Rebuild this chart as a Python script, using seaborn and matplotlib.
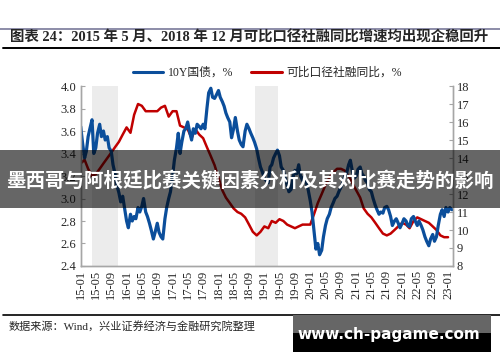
import numpy as np
import pandas as pd
import matplotlib
matplotlib.use("Agg")
import matplotlib.pyplot as plt
import matplotlib.dates as mdates
from matplotlib.lines import Line2D
from matplotlib.patches import Rectangle
import seaborn as sns

sns.set_style("white")
plt.rcParams["font.family"] = ["Liberation Serif", "Noto Sans CJK SC", "DejaVu Sans"]

# 10Y government bond yield, %, twice a month from 2015-01 to 2023-02
bond_yield = [
    3.64, 3.50, 3.36, 3.42, 3.55, 3.62, 3.70, 3.40, 3.45, 3.58, 3.66, 3.55,
    3.60, 3.52, 3.55, 3.45, 3.42, 3.30, 3.22, 3.12, 3.05, 2.97, 3.02, 2.92,
    2.80, 2.74, 2.86, 2.80, 2.84, 2.82, 2.92, 2.88, 2.93, 3.00, 2.88, 2.84,
    2.78, 2.72, 2.64, 2.70, 2.78, 2.70, 2.66, 2.64, 2.82, 2.92, 3.00, 3.06,
    3.20, 3.34, 3.45, 3.58, 3.40, 3.50, 3.60, 3.62, 3.68, 3.60, 3.52, 3.62,
    3.58, 3.66, 3.64, 3.62, 3.66, 3.62, 3.80, 3.94, 3.98, 3.90, 3.89, 3.92,
    3.96, 3.90, 3.86, 3.82, 3.76, 3.72, 3.68, 3.54, 3.62, 3.72, 3.60, 3.52,
    3.48, 3.46, 3.60, 3.66, 3.62, 3.58, 3.54, 3.50, 3.44, 3.36, 3.28, 3.24,
    3.18, 3.16, 3.14, 3.28, 3.30, 3.36, 3.40, 3.43, 3.38, 3.28, 3.25, 3.18,
    3.12, 3.06, 3.08, 3.18, 3.25, 3.22, 3.30, 3.20, 3.16, 3.20, 3.14, 3.08,
    2.98, 2.88, 2.70, 2.55, 2.60, 2.50, 2.54, 2.66, 2.76, 2.82, 2.86, 2.92,
    2.96, 3.00, 3.02, 3.06, 3.10, 3.14, 3.20, 3.22, 3.30, 3.34, 3.24, 3.18,
    3.20, 3.26, 3.28, 3.22, 3.20, 3.16, 3.14, 3.08, 3.06, 3.00, 2.94, 2.90,
    2.86, 2.88, 2.87, 2.92, 2.93, 2.90, 2.84, 2.76, 2.80, 2.82, 2.78, 2.74,
    2.78, 2.82, 2.80, 2.76, 2.75, 2.82, 2.84, 2.80, 2.76, 2.80, 2.76, 2.72,
    2.66, 2.62, 2.58, 2.64, 2.68, 2.62, 2.66, 2.76, 2.86, 2.90, 2.84, 2.92,
    2.88, 2.92, 2.90,
]

# comparable social financing yoy, %, monthly from 2015-01 to 2023-01
tsf_growth = [
    13.7, 13.9, 13.4, 13.0, 13.1, 13.4, 13.7, 14.0, 14.3, 14.6, 14.9, 15.3,
    15.7, 15.4, 16.4, 17.0, 16.9, 16.6, 16.6, 16.6, 16.6, 16.8, 16.9, 16.3,
    16.6, 16.6, 15.8, 15.7, 15.6, 15.1, 15.6, 15.3, 15.1, 14.6, 14.1, 13.6,
    12.9, 12.2, 11.8, 11.5, 11.2, 11.0, 10.9, 10.7, 10.3, 9.9, 9.7, 9.9,
    10.2, 10.1, 10.5, 10.4, 10.6, 10.5, 10.3, 10.2, 10.1, 10.2, 10.3, 10.3,
    10.3, 10.9, 11.5, 12.0, 12.5, 12.9, 13.2, 13.4, 13.4, 13.3, 13.0, 12.6,
    12.2, 11.8, 11.2, 10.9, 10.7, 10.4, 10.1, 9.8, 9.7, 9.8, 10.0, 10.2,
    10.4, 10.3, 10.1, 10.5, 10.7, 10.6, 10.5, 10.4, 10.2, 10.0, 9.7, 9.6,
    9.6,
]

# stabilisation windows (shaded)
shade_periods = [("2015-04-01", "2015-10-23"), ("2018-10-18", "2019-04-20")]

title = "图表 24：2015 年 5 月、2018 年 12 月可比口径社融同比增速均出现企稳回升"
banner = "墨西哥与阿根廷比赛关键因素分析及其对比赛走势的影响"
source = "数据来源：Wind，兴业证券经济与金融研究院整理"
watermark = "www.ch-pagame.com"
label_bond = "10Y国债，%"
label_tsf = "可比口径社融同比，%"

blue = "#0b4e9b"
red = "#c00000"
spine_color = "#a6a6a6"

df_bond = pd.DataFrame({
    "date": pd.date_range("2015-01-01", periods=len(bond_yield), freq="SMS"),
    "value": bond_yield,
})
df_tsf = pd.DataFrame({
    "date": pd.date_range("2015-01-01", periods=len(tsf_growth), freq="MS"),
    "value": tsf_growth,
})

fig = plt.figure(figsize=(5, 3.62), dpi=100)
ax = fig.add_axes([0.1614, 0.2652, 0.744, 0.4972])
ax2 = ax.twinx()
ax2.set_zorder(1)
ax.set_zorder(2)
ax.patch.set_visible(False)

# shading goes on the lower (right-hand) axes so both lines sit above it
for start, end in shade_periods:
    ax2.axvspan(pd.Timestamp(start), pd.Timestamp(end), color="#ececec", zorder=0, lw=0)

sns.lineplot(data=df_bond, x="date", y="value", ax=ax, color=blue, linewidth=2.3)
sns.lineplot(data=df_tsf, x="date", y="value", ax=ax2, color=red, linewidth=1.8)

ax.set_xlim(pd.Timestamp("2015-01-01"), pd.Timestamp("2023-02-07"))
ax.set_ylim(2.4, 4.0)
ax2.set_ylim(8, 18)
ax.set_yticks(np.arange(2.4, 4.01, 0.2))
ax.yaxis.set_major_formatter(matplotlib.ticker.FormatStrFormatter("%.1f"))
ax2.set_yticks(range(8, 19))
ax.set_xticks(pd.date_range("2015-01-01", "2023-01-01", freq="4MS"))
ax.xaxis.set_major_formatter(mdates.DateFormatter("%y-%m"))
ax.set_xlabel("")
ax.set_ylabel("")
ax2.set_ylabel("")

for a in (ax, ax2):
    a.tick_params(axis="both", labelsize=9, direction="in", length=3, color=spine_color, pad=3)
    a.spines["top"].set_visible(False)
    for s in ("left", "right", "bottom"):
        a.spines[s].set_color(spine_color)
        a.spines[s].set_linewidth(1.0)
ax.tick_params(axis="x", rotation=90)

# legend
handles = [
    Line2D([], [], color=blue, linewidth=2.2),
    Line2D([], [], color=red, linewidth=2.2),
]
fig.legend(handles, [label_bond, label_tsf], loc="center", bbox_to_anchor=(0.535, 0.798),
           ncol=2, frameon=False, fontsize=8.5, handlelength=2.6, columnspacing=1.5,
           handletextpad=0.4)

# title block
fig.add_artist(Line2D([0.0, 1.0], [1 - 29 / 362] * 2, color="#8c8ca8", linewidth=1.4))
fig.add_artist(Line2D([0.006, 1.0], [1 - 48 / 362] * 2, color="black", linewidth=1.4))
fig.text(0.02, 1 - 38 / 362, title, fontsize=10.4, fontweight="bold", va="center", ha="left")

# source block
fig.add_artist(Line2D([0.006, 1.0], [1 - 315 / 362] * 2, color="black", linewidth=1.2))
fig.text(0.018, 1 - 326 / 362, source, fontsize=8, va="center", ha="left")

# overlay banner
fig.add_artist(Rectangle((0, 1 - 208 / 362), 1, 58 / 362, transform=fig.transFigure,
                         facecolor="black", alpha=0.6, lw=0, zorder=5))
fig.text(0.5, 1 - 180 / 362, banner, fontsize=14, fontweight="bold", color="white",
         ha="center", va="center", family=["Noto Sans CJK SC"], zorder=6)

# watermark box
fig.add_artist(Rectangle((293 / 500, 1 - 333 / 362), 198 / 500, 18 / 362,
                         transform=fig.transFigure, facecolor="#666666", lw=0, zorder=5))
fig.add_artist(Rectangle((293 / 500, 1 - 352 / 362), 198 / 500, 19 / 362,
                         transform=fig.transFigure, facecolor="black", lw=0, zorder=5))
fig.text(389 / 500, 1 - 334 / 362, watermark, fontsize=11, fontweight="bold", color="white",
         ha="center", va="center", family=["DejaVu Sans"], zorder=6)

fig.savefig("out.png", dpi=100)
